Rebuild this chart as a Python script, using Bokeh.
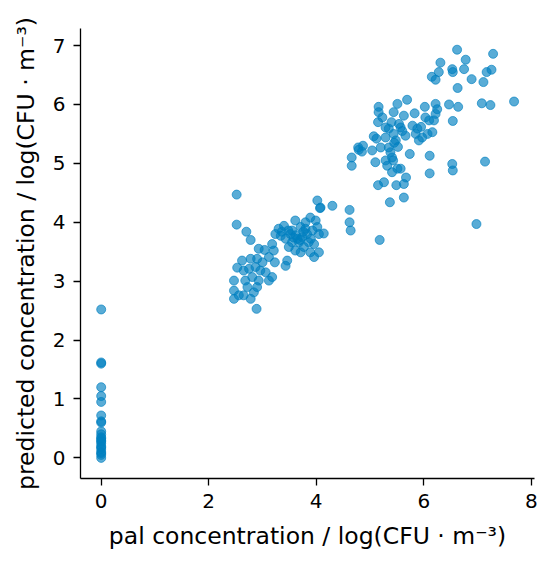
from bokeh.plotting import figure
from bokeh.models import Range1d, FixedTicker
from bokeh.embed import file_html
from bokeh.resources import INLINE

# measured pal concentration (x) and predicted concentration (y), log(CFU m^-3)
zero_x = [0.0] * 23
zero_y = [2.52, 1.62, 1.60, 1.20, 1.05, 0.95, 0.72, 0.62, 0.60, 0.45, 0.40, 0.35,
          0.30, 0.25, 0.20, 0.15, 0.10, 0.05, 0.00, 0.33, 0.28, 0.18, 0.08]

mid_x = [2.52, 2.52, 2.70, 2.78, 2.93, 3.04, 3.18, 3.21, 3.12, 3.23, 3.00, 2.90,
         2.78, 2.62, 2.53, 2.65, 2.75, 2.87, 2.96, 3.06, 3.18, 3.12, 2.93, 2.81,
         2.68, 2.72, 2.47, 2.47, 2.56, 2.65, 2.78, 2.84, 2.90, 2.89, 2.47,
         3.30, 3.40, 3.34, 3.43, 3.52, 3.55, 3.49, 3.61, 3.61, 3.71, 3.80, 3.89,
         3.99, 4.02, 4.05, 4.14, 3.93, 3.83, 3.74, 3.86, 3.96, 3.77, 3.71, 3.89,
         4.05, 3.96, 3.46, 3.43, 4.02, 4.08, 4.30, 3.65, 3.55, 3.24, 3.80, 3.68,
         3.36, 3.58, 3.62, 3.76, 3.90, 3.48, 3.70]
mid_y = [4.47, 3.96, 3.84, 3.70, 3.55, 3.53, 3.63, 3.52, 3.41, 3.32, 3.32, 3.38,
         3.38, 3.35, 3.23, 3.18, 3.21, 3.24, 3.18, 3.15, 3.07, 3.01, 3.01, 3.07,
         3.01, 2.90, 2.84, 2.70, 2.76, 2.76, 2.70, 2.81, 2.90, 2.53, 3.01,
         3.89, 3.94, 3.77, 3.72, 3.80, 3.66, 3.58, 3.52, 4.03, 3.92, 4.00, 4.08,
         4.03, 3.92, 3.80, 3.81, 3.86, 3.80, 3.75, 3.66, 3.63, 3.58, 3.49, 3.49,
         3.49, 3.41, 3.35, 3.26, 4.37, 4.25, 4.28, 3.72, 3.86, 3.80, 3.89, 3.66,
         3.84, 3.74, 3.78, 3.84, 3.72, 3.86, 3.70]

high_x = [4.07, 4.62, 4.62, 4.64, 5.18, 6.98, 5.37, 5.63, 5.15, 5.26, 5.49, 5.63,
          5.67, 5.57, 5.41, 5.32, 5.10, 5.41, 5.38, 5.35, 5.74, 6.11, 6.11, 6.53,
          6.54, 7.14, 4.66, 4.66, 4.79, 4.87, 5.04, 5.07, 5.20, 5.29, 5.35, 5.44,
          5.48, 5.57, 5.66, 5.79, 5.88, 5.97, 6.07, 6.16, 6.10, 6.19, 6.22, 6.03,
          5.83, 5.63, 5.54, 5.44, 5.51, 5.69, 5.16, 5.16, 5.23, 5.15, 6.02, 6.22,
          6.25, 6.47, 6.64, 6.54, 7.08, 7.24, 7.68, 5.29, 5.85, 5.91, 4.78, 4.85,
          5.43, 5.51, 5.29, 5.45, 5.60, 5.40, 5.52, 5.95, 5.12]
high_y = [4.24, 4.21, 4.00, 3.86, 3.70, 3.97, 4.34, 4.42, 4.63, 4.68, 4.63, 4.65,
          4.76, 4.91, 4.85, 4.96, 5.02, 5.10, 5.19, 5.27, 5.16, 5.13, 4.83, 4.99,
          4.88, 5.03, 5.10, 4.96, 5.23, 5.30, 5.22, 5.46, 5.27, 5.44, 5.59, 5.50,
          5.39, 5.61, 5.47, 5.64, 5.59, 5.44, 5.50, 5.53, 5.73, 5.73, 5.84, 5.78,
          5.85, 5.81, 5.67, 5.87, 6.01, 6.08, 5.96, 5.87, 5.78, 5.70, 5.96, 6.01,
          5.92, 6.00, 5.96, 5.72, 6.02, 5.99, 6.05, 5.61, 5.50, 5.39, 5.27, 5.20,
          5.05, 4.91, 5.05, 5.35, 5.55, 5.70, 5.28, 5.62, 5.42]

top_x = [6.62, 7.29, 6.78, 6.31, 6.28, 6.15, 6.22, 6.53, 6.54, 6.75, 6.89, 7.11,
         7.17, 7.26, 6.63]
top_y = [6.93, 6.86, 6.76, 6.71, 6.55, 6.47, 6.42, 6.60, 6.55, 6.60, 6.43, 6.38,
         6.55, 6.59, 6.28]

x_vals = zero_x + mid_x + high_x + top_x
y_vals = zero_y + mid_y + high_y + top_y

x_ticks = [0, 2, 4, 6, 8]
y_ticks = [0, 1, 2, 3, 4, 5, 6, 7]

x_label = "pal concentration / log(CFU · m⁻³)"
y_label = "predicted concentration / log(CFU · m⁻³)"

p = figure(frame_width=454, frame_height=450, output_backend="svg",
           toolbar_location=None,
           x_range=Range1d(-0.385, 8.06), y_range=Range1d(-0.35, 7.29),
           min_border_left=80, min_border_right=6, min_border_top=28,
           min_border_bottom=60)

p.scatter(x_vals, y_vals, size=9, fill_color="#0080C0", fill_alpha=0.65,
          line_color="#0080C0", line_alpha=0.65)

p.grid.visible = False
p.outline_line_color = None
p.background_fill_color = "white"
p.border_fill_color = "white"

for ax in (p.xaxis, p.yaxis):
    ax.axis_line_color = "black"
    ax.axis_line_width = 1.3
    ax.major_tick_line_color = "black"
    ax.major_tick_line_width = 1.3
    ax.major_tick_out = 7
    ax.major_tick_in = 0
    ax.minor_tick_line_color = None
    ax.major_label_text_font = "DejaVu Sans"
    ax.major_label_text_font_size = "20px"
    ax.major_label_text_color = "black"
    ax.major_label_standoff = 8
    ax.axis_label_text_font = "DejaVu Sans"
    ax.axis_label_text_font_size = "23.5px"
    ax.axis_label_text_font_style = "normal"
    ax.axis_label_text_color = "black"

p.xaxis.ticker = FixedTicker(ticks=x_ticks)
p.yaxis.ticker = FixedTicker(ticks=y_ticks)
p.xaxis.axis_label = x_label
p.yaxis.axis_label = y_label
p.xaxis.axis_label_standoff = 11
p.yaxis.axis_label_standoff = 10

open("out.html", "w").write(file_html(p, INLINE))
